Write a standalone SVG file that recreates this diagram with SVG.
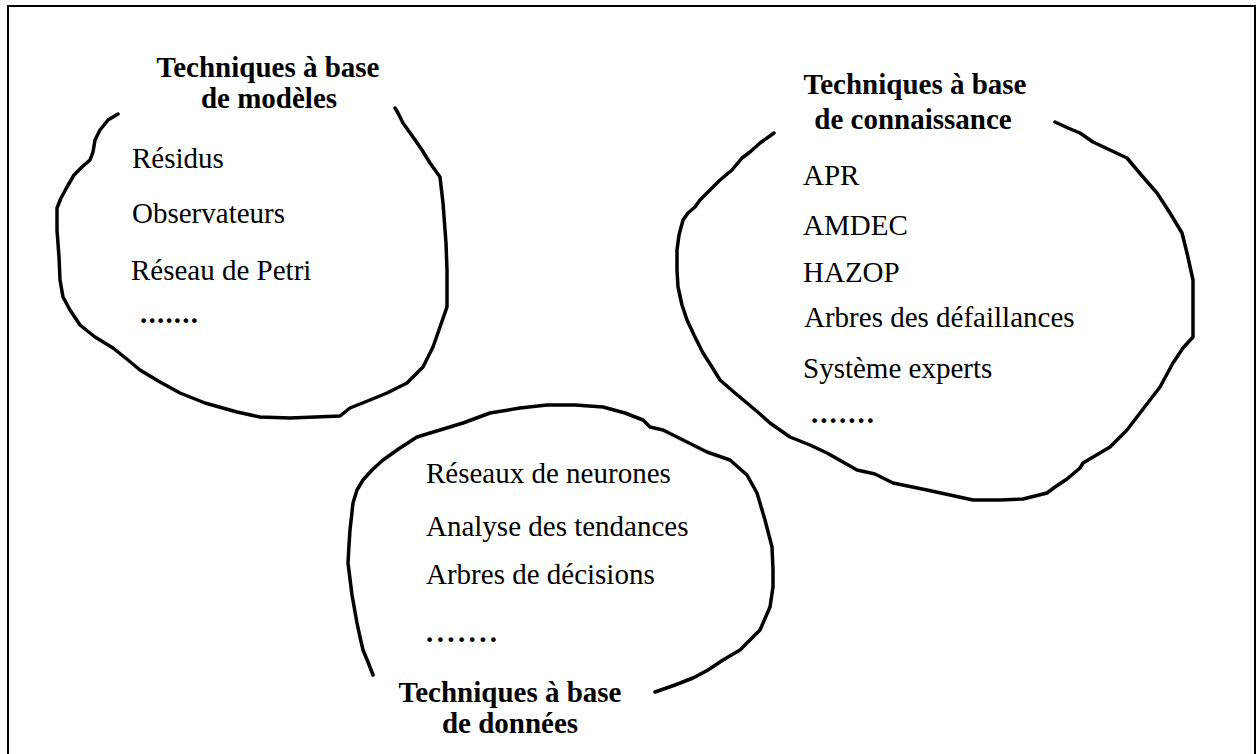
<svg xmlns="http://www.w3.org/2000/svg" width="1257" height="754" viewBox="0 0 1257 754">
  <style>
    .frame { fill: none; stroke: #000; stroke-width: 2; }
    .loop { fill: none; stroke: #000; stroke-width: 3.5; stroke-linejoin: round; stroke-linecap: round; }
    .t { font-family: "Liberation Serif", "Times New Roman", serif; font-size: 29px; fill: #000; }
    .b { font-weight: bold; }
    .c { text-anchor: middle; }
  </style>
  <rect width="1257" height="754" fill="#fff"/>
  <!-- page frame, open at the bottom -->
  <path class="frame" d="M8,760 V6 H1255 V760"/>

  <!-- model-based techniques -->
  <g id="node-modeles">
    <polyline class="loop" points="118,114 108,120 100,130 95,140 93,152 90,160 82,167 74,175 67,187 61,198 57,208 57,230 59,257 60,280 63,297 70,310 80,325 95,337 113,348 128,360 140,370 160,382 180,393 205,403 237,412 260,417 290,418 340,416 350,408 370,400 387,393 407,383 423,367 433,347 440,327 447,307 447,270 446,243 443,203 440,177 430,163 422,150 413,137 403,123 398,113 395,108"/>
    <text class="t b c" x="268" y="77">Techniques à base</text>
    <text class="t b c" x="269" y="108">de modèles</text>
    <text class="t" x="132" y="168">Résidus</text>
    <text class="t" x="132" y="223">Observateurs</text>
    <text class="t" x="131" y="280">Réseau de Petri</text>
    <text class="t b" x="140" y="323" textLength="58" lengthAdjust="spacing">.......</text>
  </g>

  <!-- knowledge-based techniques -->
  <g id="node-connaissance">
    <polyline class="loop" points="774,133 760,143 750,152 742,158 732,170 720,180 710,190 700,200 695,207 688,213 683,220 679,235 677,250 677,270 678,287 682,305 687,320 694,335 703,353 712,367 720,380 735,393 747,403 760,414 770,423 790,437 810,445 827,453 857,470 875,474 893,483 927,490 950,495 973,500 1000,500 1023,499 1047,493 1055,487 1067,479 1080,468 1083,463 1110,447 1127,430 1140,413 1160,387 1173,363 1183,348 1193,337 1193,310 1193,280 1187,253 1182,233 1170,213 1157,193 1143,177 1127,158 1110,150 1093,142 1080,133 1068,128 1055,122"/>
    <text class="t b c" x="915" y="94">Techniques à base</text>
    <text class="t b c" x="913" y="129">de connaissance</text>
    <text class="t" x="803" y="185">APR</text>
    <text class="t" x="803" y="235">AMDEC</text>
    <text class="t" x="803" y="282">HAZOP</text>
    <text class="t" x="804" y="327">Arbres des défaillances</text>
    <text class="t" x="803" y="378">Système experts</text>
    <text class="t b" x="811" y="423" textLength="63" lengthAdjust="spacing">.......</text>
  </g>

  <!-- data-based techniques -->
  <g id="node-donnees">
    <polyline class="loop" points="373,675 368,662 363,650 360,637 357,623 352,595 348,563 349,545 350,530 353,503 357,490 363,480 372,470 383,460 400,448 417,437 440,430 463,423 490,413 520,408 547,405 575,405 603,407 625,413 643,420 650,427 663,430 683,440 707,452 730,460 747,475 757,493 765,520 772,547 773,570 773,587 770,607 760,630 750,640 740,650 723,660 708,670 693,678 675,685 655,692"/>
    <text class="t" x="426" y="483">Réseaux de neurones</text>
    <text class="t" x="426" y="536">Analyse des tendances</text>
    <text class="t" x="426" y="584">Arbres de décisions</text>
    <text class="t b" x="426" y="642" textLength="71" lengthAdjust="spacing">.......</text>
    <text class="t b c" x="510" y="702">Techniques à base</text>
    <text class="t b c" x="510" y="733">de données</text>
  </g>

  <!-- the three families are not linked by connectors -->
  <g id="connectors"/>
</svg>
